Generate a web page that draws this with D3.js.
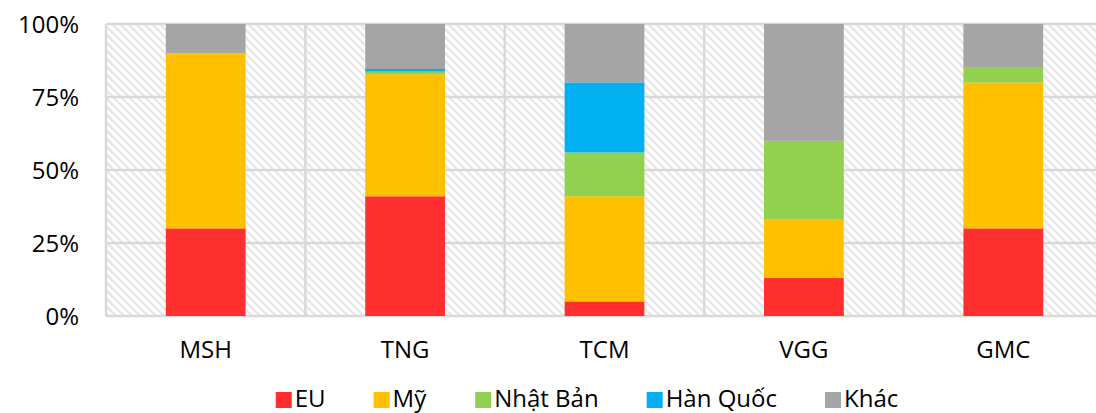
<!DOCTYPE html>
<html>
<head>
<meta charset="utf-8">
<script src="https://cdn.jsdelivr.net/npm/d3@7"></script>
<style>
  body { margin: 0; background: #fff; }
  text { font-family: "Open Sans", "Noto Sans", sans-serif; fill: #000; }
</style>
</head>
<body>
<script>
let companies = ["MSH", "TNG", "TCM", "VGG", "GMC"];
let markets = ["EU", "Mỹ", "Nhật Bản", "Hàn Quốc", "Khác"];
let colors = ["#ff2f2f", "#ffc000", "#92d050", "#00b0f0", "#a5a5a5"];

// share by market (%), one array per series, in company order
let eu     = [30, 41, 5, 13, 30];
let my     = [60, 41.8, 36, 20, 50];
let nhat   = [0, 0.9, 15, 27, 5];
let han    = [0, 0.9, 24, 0, 0];
let khac   = [10, 15.4, 20, 40, 15];
let yTicks = [0, 0.25, 0.5, 0.75, 1];

let series = [eu, my, nhat, han, khac];
let rows = companies.map((c, i) => {
  let r = { name: c };
  markets.forEach((m, j) => r[m] = series[j][i]);
  return r;
});

let width = 1096, height = 413;
let plotLeft = 106, plotTop = 24, plotBottom = 316;
let band = 199.4;

let svg = d3.select("body").append("svg")
  .attr("width", width)
  .attr("height", height);

// hatch pattern for plot background
let defs = svg.append("defs");
let pat = defs.append("pattern")
  .attr("id", "hatch")
  .attr("patternUnits", "userSpaceOnUse")
  .attr("width", 8)
  .attr("height", 8);
pat.append("rect").attr("width", 8).attr("height", 8).attr("fill", "#fff");
pat.append("path")
  .attr("d", "M-2,-2 L10,10 M-2,6 L2,10 M6,-2 L10,2")
  .attr("stroke", "#e8e8e8")
  .attr("stroke-width", 2.4);

let x = d3.scaleBand()
  .domain(companies)
  .range([plotLeft, plotLeft + band * companies.length])
  .paddingInner(0.6)
  .paddingOuter(0.3);

let y = d3.scaleLinear()
  .domain([0, 1])
  .range([plotBottom, plotTop]);

svg.append("rect")
  .attr("x", plotLeft)
  .attr("y", plotTop)
  .attr("width", band * companies.length)
  .attr("height", plotBottom - plotTop)
  .attr("fill", "url(#hatch)");

// gridlines
let grid = svg.append("g").attr("stroke", "#d9d9d9").attr("stroke-width", 2.5);
grid.selectAll(".h").data(yTicks).enter()
  .append("line")
  .attr("x1", plotLeft).attr("x2", plotLeft + band * companies.length)
  .attr("y1", d => y(d)).attr("y2", d => y(d));
grid.selectAll(".v").data(d3.range(companies.length + 1)).enter()
  .append("line")
  .attr("x1", d => plotLeft + d * band).attr("x2", d => plotLeft + d * band)
  .attr("y1", plotTop).attr("y2", plotBottom);

let stack = d3.stack().keys(markets);
let stacked = stack(rows);

svg.append("g").selectAll("g")
  .data(stacked)
  .enter().append("g")
  .attr("fill", (d, i) => colors[i])
  .selectAll("rect")
  .data(d => d)
  .enter().append("rect")
  .attr("x", d => x(d.data.name))
  .attr("width", x.bandwidth())
  .attr("y", d => y(d[1] / 100))
  .attr("height", d => y(d[0] / 100) - y(d[1] / 100));

// y axis labels
let yAxis = d3.axisLeft(y)
  .tickValues(yTicks)
  .tickFormat(d3.format(".0%"))
  .tickSize(0)
  .tickPadding(0);
let ya = svg.append("g")
  .attr("transform", "translate(" + 79 + ",0)")
  .call(yAxis);
ya.select(".domain").remove();
ya.selectAll("text")
  .style("font-size", "24px")
  .style("font-family", "'Open Sans', sans-serif")
  .attr("fill", "#000")
  .attr("dy", "0.35em");

// x axis labels
let xAxis = d3.axisBottom(x).tickSize(0).tickPadding(0);
let xa = svg.append("g")
  .attr("transform", "translate(0," + 340 + ")")
  .call(xAxis);
xa.select(".domain").remove();
xa.selectAll("text")
  .style("font-size", "24px")
  .style("font-family", "'Open Sans', sans-serif")
  .attr("fill", "#000")
  .attr("dy", "0.75em");

// legend
let legend = svg.append("g");
let items = legend.selectAll("g")
  .data(markets)
  .enter().append("g");
items.append("rect")
  .attr("width", 16).attr("height", 16)
  .attr("y", 392)
  .attr("fill", (d, i) => colors[i]);
items.append("text")
  .attr("x", 19)
  .attr("y", 407)
  .style("font-size", "24px")
  .text(d => d);

let pos = 0, gap = 48, offs = [];
items.each(function () {
  offs.push(pos);
  pos += this.getBBox().width + gap;
});
let total = pos - gap;
let start = 587 - total / 2;
items.attr("transform", (d, i) => "translate(" + (start + offs[i]) + ",0)");
</script>
</body>
</html>
